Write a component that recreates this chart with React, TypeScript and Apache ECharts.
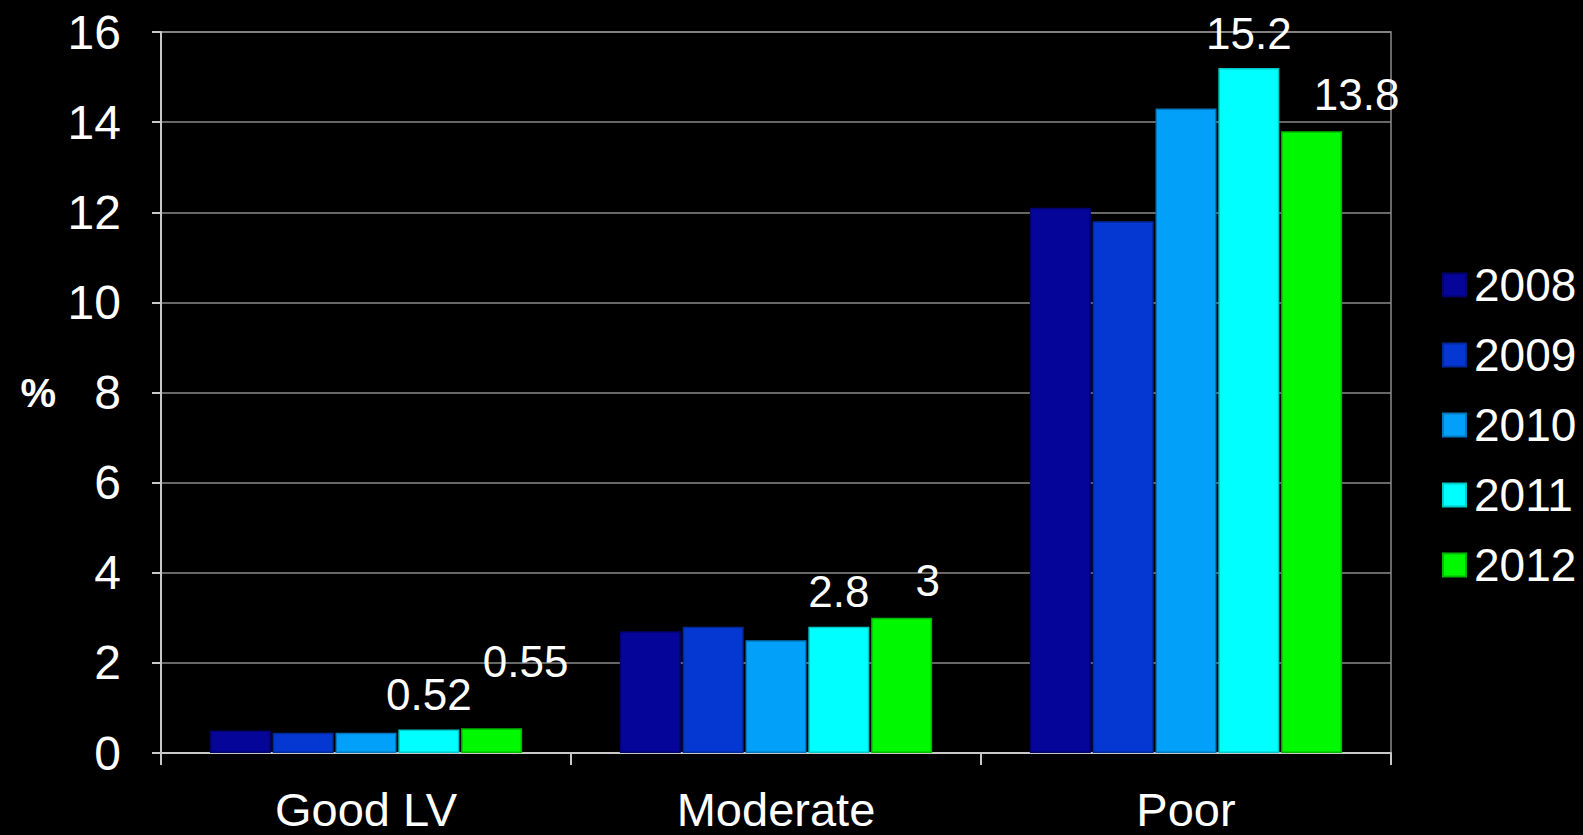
import React, { useEffect, useRef } from "react";
import * as echarts from "echarts";

const categories = ["Good LV", "Moderate", "Poor"];
const years = ["2008", "2009", "2010", "2011", "2012"];
const v2008 = [0.5, 2.7, 12.1];
const v2009 = [0.45, 2.8, 11.8];
const v2010 = [0.45, 2.5, 14.3];
const v2011 = [0.52, 2.8, 15.2];
const v2012 = [0.55, 3, 13.8];
const yTicks = [0, 2, 4, 6, 8, 10, 12, 14, 16];

const colors = ["#05059a", "#0538d2", "#02a0f8", "#00ffff", "#00f800"];
const borders = ["#03036a", "#03289a", "#0378c0", "#00c8c8", "#00b800"];
const label2012Offsets = [
  [34, -32],
  [26, -2],
  [45, -2],
];

export default function App() {
  const ref = useRef<HTMLDivElement>(null);
  useEffect(() => {
    const chart = echarts.init(ref.current!, null, { renderer: "svg" });
    const font = "'Liberation Sans', Arial, sans-serif";
    const values = [v2008, v2009, v2010, v2011, v2012];
    const series = years.map((y, i) => {
      const showLabel = i >= 3;
      const data = values[i].map((v, j) => {
        const d: any = { value: v };
        if (i === 4) {
          d.label = { offset: label2012Offsets[j] };
        }
        return d;
      });
      return {
        name: y,
        type: "bar",
        barWidth: 61,
        barGap: "3%",
        data,
        itemStyle: { color: colors[i], borderColor: borders[i], borderWidth: 1.5 },
        label: {
          show: showLabel,
          position: "top",
          distance: 13,
          color: "#ffffff",
          fontSize: 44,
          fontFamily: font,
        },
      };
    });
    chart.setOption({
      animation: false,
      backgroundColor: "#000000",
      textStyle: { fontFamily: font },
      grid: {
        left: 161,
        right: 192,
        top: 32,
        bottom: 82,
        show: true,
        borderColor: "#8a8a8a",
        borderWidth: 1.5,
      },
      legend: {
        orient: "vertical",
        left: 1437,
        top: 252,
        itemWidth: 23,
        itemHeight: 23,
        itemGap: 14,
        icon: "rect",
        textStyle: {
          color: "#ffffff",
          fontSize: 46,
          lineHeight: 56,
          fontFamily: font,
          padding: [0, 0, 0, 3],
        },
        data: years,
      },
      xAxis: {
        type: "category",
        data: categories,
        axisLine: { lineStyle: { color: "#c8c8c8", width: 2 } },
        axisTick: { show: true, length: 12, lineStyle: { color: "#c8c8c8", width: 2 } },
        axisLabel: { color: "#ffffff", fontSize: 47, margin: 33, fontFamily: font },
      },
      yAxis: {
        type: "value",
        min: 0,
        max: 16,
        interval: 2,
        name: "%",
        nameLocation: "middle",
        nameRotate: 0,
        nameGap: 105,
        nameTextStyle: {
          color: "#ffffff",
          fontSize: 40,
          fontWeight: "bold",
          fontFamily: font,
          padding: [14, 0, 0, 0],
        },
        axisLine: { show: true, lineStyle: { color: "#c8c8c8", width: 2 } },
        axisTick: { show: true, length: 9, lineStyle: { color: "#c8c8c8", width: 2 } },
        axisLabel: {
          color: "#ffffff",
          fontSize: 48,
          margin: 40,
          fontFamily: font,
          formatter: (v: number) => (yTicks.includes(v) ? String(v) : ""),
        },
        splitLine: { show: true, lineStyle: { color: "#8a8a8a", width: 1.5 } },
      },
      series,
    });
    return () => chart.dispose();
  }, []);
  return <div ref={ref} style={{ width: 1583, height: 835, position: "absolute", left: 0, top: 0 }} />;
}
